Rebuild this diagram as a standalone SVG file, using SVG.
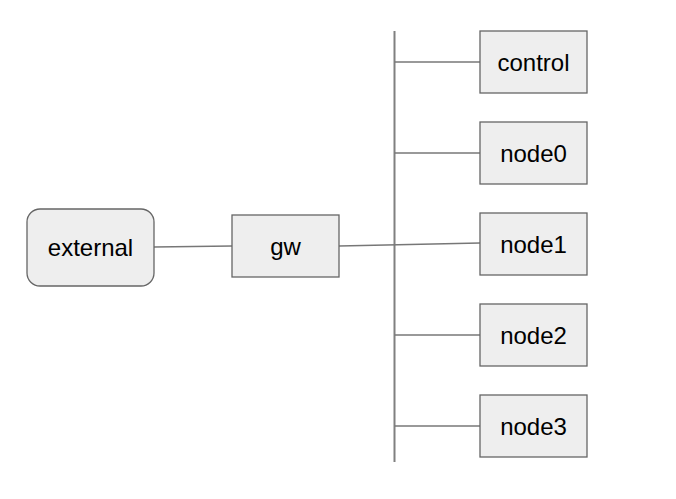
<svg xmlns="http://www.w3.org/2000/svg" width="676" height="499" viewBox="0 0 676 499">
<style>
.box{fill:#eeeeee;stroke:#666666;stroke-width:1.3}
.lbl{font-family:"Liberation Sans",Arial,sans-serif;font-size:24px;fill:#000;text-anchor:middle;dominant-baseline:central}
.edge{stroke:#777777;stroke-width:1.3;fill:none}
.bus{stroke:#808080;stroke-width:2;fill:none}
</style>
<rect width="676" height="499" fill="#ffffff"/>
<g id="connectors">
<line class="bus" x1="394.5" y1="31" x2="394.5" y2="462"/>
<line class="edge" x1="154" y1="247" x2="232" y2="246"/>
<line class="edge" x1="339" y1="246" x2="480" y2="243"/>
<line class="edge" x1="394.5" y1="62" x2="480" y2="62"/>
<line class="edge" x1="394.5" y1="153" x2="480" y2="153"/>
<line class="edge" x1="394.5" y1="335" x2="480" y2="335"/>
<line class="edge" x1="394.5" y1="426" x2="480" y2="426"/>
</g>
<g id="external"><rect class="box" x="27" y="209" width="127" height="77" rx="13"/><text class="lbl" x="90.5" y="247.5">external</text></g>
<g id="gw"><rect class="box" x="232" y="215" width="107" height="62"/><text class="lbl" x="285.5" y="246">gw</text></g>
<g id="control"><rect class="box" x="480" y="31" width="107" height="62"/><text class="lbl" x="533.5" y="62">control</text></g>
<g id="node0"><rect class="box" x="480" y="122" width="107" height="62"/><text class="lbl" x="533.5" y="153">node0</text></g>
<g id="node1"><rect class="box" x="480" y="213" width="107" height="62"/><text class="lbl" x="533.5" y="244">node1</text></g>
<g id="node2"><rect class="box" x="480" y="304" width="107" height="62"/><text class="lbl" x="533.5" y="335">node2</text></g>
<g id="node3"><rect class="box" x="480" y="395" width="107" height="62"/><text class="lbl" x="533.5" y="426">node3</text></g>
</svg>
